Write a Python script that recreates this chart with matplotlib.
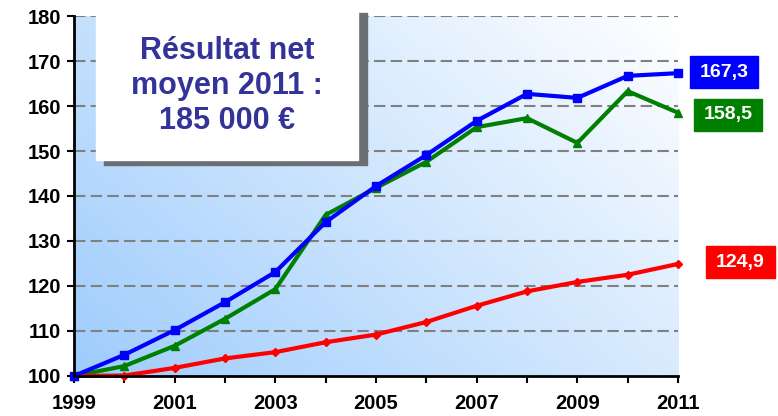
import matplotlib
matplotlib.use("Agg")
import matplotlib.pyplot as plt
import numpy as np
from matplotlib.patches import Rectangle

plt.rcParams["font.family"] = ["Liberation Sans", "DejaVu Sans"]

years = list(range(1999, 2012))
blue_vals = [100, 104.7, 110.2, 116.4, 123.1, 134.2, 142.2, 149.1, 156.7, 162.7, 161.8, 166.7, 167.3]
green_vals = [100, 102.2, 106.7, 112.7, 119.3, 135.8, 141.8, 147.6, 155.3, 157.3, 151.8, 163.3, 158.5]
red_vals = [100, 100.1, 101.8, 103.9, 105.3, 107.5, 109.2, 112.0, 115.6, 118.8, 120.9, 122.5, 124.9]
end_labels = ["167,3", "158,5", "124,9"]
box_text = "Résultat net\nmoyen 2011 :\n185 000 €"

fig = plt.figure(figsize=(7.78, 4.16), dpi=100)
ax = fig.add_axes([0.0951, 0.0962, 0.7764, 0.8653])
ax.set_xlim(1999, 2011)
ax.set_ylim(100, 180)

# gradient background: light blue bottom-left -> white top-right
gx, gy = np.meshgrid(np.linspace(0, 1, 200), np.linspace(0, 1, 200))
t = np.clip((gx * 0.9 + gy * 0.6) / 1.5, 0, 1)
c0 = np.array([0.62, 0.80, 0.99])
c1 = np.array([1.0, 1.0, 1.0])
img = c0[None, None, :] * (1 - t[..., None]) + c1[None, None, :] * t[..., None]
ax.imshow(img, extent=[0, 1, 0, 1], transform=ax.transAxes, origin="lower",
          aspect="auto", zorder=0)

for yv in range(110, 190, 10):
    ax.axhline(yv, color="#808080", lw=1.5, ls=(0, (5.5, 2.5)), zorder=1)

ax.plot(years, blue_vals, color="#0000ff", lw=3, marker="s", ms=6, zorder=4, clip_on=False)
ax.plot(years, green_vals, color="#008000", lw=3, marker="^", ms=6, zorder=3, clip_on=False)
ax.plot(years, red_vals, color="#ff0000", lw=3, marker="D", ms=4, zorder=3, clip_on=False)

for sp in ["top", "right"]:
    ax.spines[sp].set_visible(False)
for sp in ["left", "bottom"]:
    ax.spines[sp].set_linewidth(2)
    ax.spines[sp].set_zorder(5)

ax.set_xticks(years)
ax.set_xticklabels([str(y) if (y - 1999) % 2 == 0 else "" for y in years])
ax.set_yticks(range(100, 190, 10))
ax.tick_params(axis="both", direction="out", length=5, width=1.5, labelsize=14.5)
ax.tick_params(axis="x", pad=8)
ax.tick_params(axis="y", pad=4)
for lab in ax.get_xticklabels() + ax.get_yticklabels():
    lab.set_fontweight("bold")

# text box with shadow (pixel-based figure coords)
W, H = 778, 416
def fbox(x0, y0, x1, y1):
    return (x0 / W, 1 - y1 / H), (x1 - x0) / W, (y1 - y0) / H

xy, w, h = fbox(104, 13, 367, 165)
fig.add_artist(Rectangle(xy, w, h, transform=fig.transFigure, color="#6b6f75", zorder=6))
xy, w, h = fbox(96, 12, 358, 160)
fig.add_artist(Rectangle(xy, w, h, transform=fig.transFigure, color="white", zorder=7))
fig.text(227 / W, 1 - 86 / H, box_text, ha="center", va="center", fontsize=22,
         fontweight="bold", color="#333399", linespacing=1.2, zorder=8)

# end value labels
label_colors = ["#0000ff", "#008000", "#ff0000"]
label_boxes = [(690, 56, 758, 88), (694, 99, 762, 131), (706, 246, 775, 278)]
for txt, col, (x0, y0, x1, y1) in zip(end_labels, label_colors, label_boxes):
    xy, w, h = fbox(x0, y0, x1, y1)
    fig.add_artist(Rectangle(xy, w, h, transform=fig.transFigure, color=col, zorder=6))
    fig.text((x0 + x1) / 2 / W, 1 - (y0 + y1) / 2 / H, txt, ha="center", va="center",
             fontsize=14, fontweight="bold", color="white", zorder=7)

fig.savefig("out.png", dpi=100)
